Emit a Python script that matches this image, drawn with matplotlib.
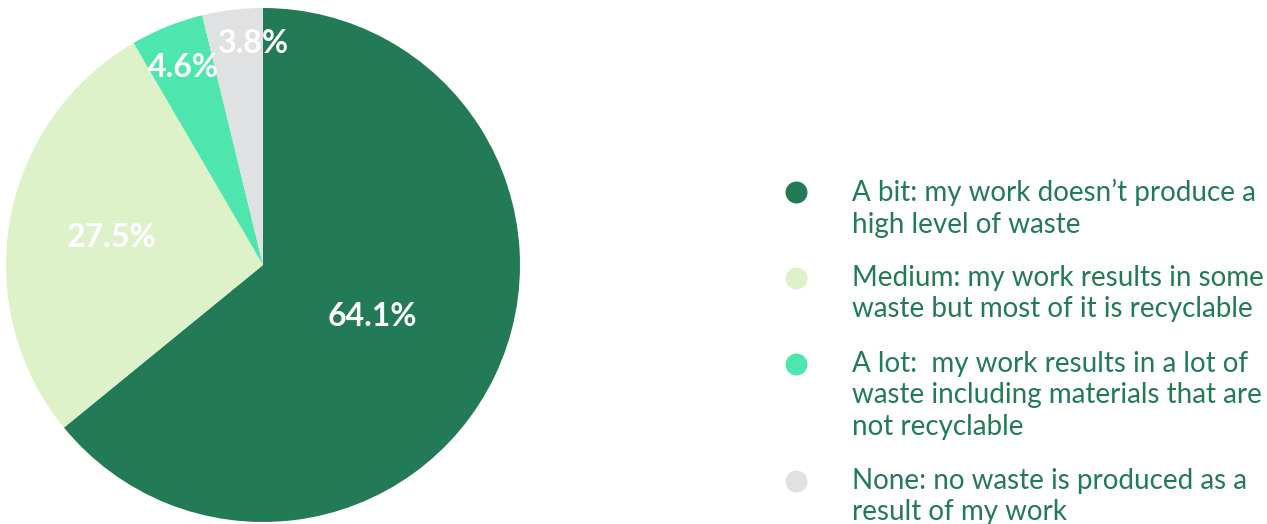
import matplotlib.pyplot as plt
import numpy as np

plt.rcParams['font.family'] = ['Lato', 'DejaVu Sans']

# waste levels reported
labels = [
    "A bit: my work doesn\u2019t produce a\nhigh level of waste",
    "Medium: my work results in some\nwaste but most of it is recyclable",
    "A lot:  my work results in a lot of\nwaste including materials that are\nnot recyclable",
    "None: no waste is produced as a\nresult of my work",
]
shares = [64.1, 27.5, 4.6, 3.8]
colors = ['#237a57', '#def2ca', '#4de6ae', '#e0e1e3']
# radial distance and sideways nudge of each percentage label
label_dist = [0.47, 0.60, 0.83, 0.87]
label_dx = [0.0, 0.0, 0.0, 0.065]

W, H = 1267, 524
fig = plt.figure(figsize=(W / 100, H / 100), dpi=100)

ax = fig.add_axes([6 / W, 2 / H, 514 / W, 514 / H])
wedges, _ = ax.pie(shares, colors=colors, startangle=90, counterclock=False,
                   radius=1, wedgeprops=dict(linewidth=0))
ax.set_xlim(-1, 1)
ax.set_ylim(-1, 1)
ax.set_aspect('equal')

for w, v, d, dx in zip(wedges, shares, label_dist, label_dx):
    mid = np.deg2rad((w.theta1 + w.theta2) / 2)
    ax.text(d * np.cos(mid) + dx, d * np.sin(mid), f"{v}%", color='white',
            fontsize=23, fontweight='bold', ha='center', va='center')

# legend drawn by hand on the right
lax = fig.add_axes([0, 0, 1, 1])
lax.set_xlim(0, W)
lax.set_ylim(H, 0)
lax.axis('off')

line_h = 31
gap = 24
y = 181
for lab, c in zip(labels, colors):
    lax.scatter(796, y + 11, s=250, color=c, zorder=3, linewidths=0)
    lax.text(852, y - 2, lab, color='#237a57', fontsize=20, va='top',
             ha='left', linespacing=1.26)
    y += line_h * (lab.count('\n') + 1) + gap

fig.savefig('out.png', dpi=100)
